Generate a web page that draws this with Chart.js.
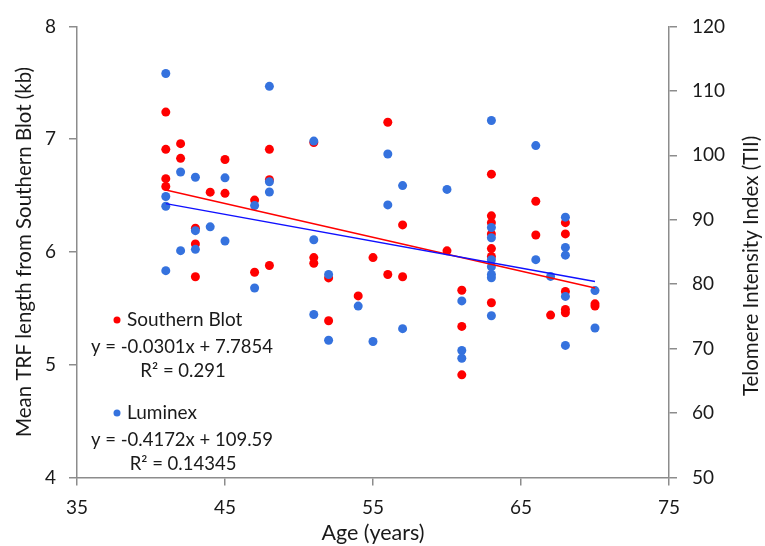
<!DOCTYPE html>
<html>
<head>
<meta charset="utf-8">
<script src="https://cdn.jsdelivr.net/npm/chart.js@4.4.1/dist/chart.umd.min.js"></script>
<style>
  html, body { margin: 0; padding: 0; background: #fff; }
  #wrap { width: 765px; height: 546px; position: relative; }
</style>
</head>
<body>
<div id="wrap"><canvas id="mycanvas"></canvas></div>
<script>
// Southern Blot (left axis, kb)
var sbAge = [41,41,41,41,42,42,43,43,43,44,45,45,47,47,48,48,48,51,51,51,52,52,54,55,56,56,57,57,60,61,61,61,63,63,63,63,63,63,63,66,66,67,68,68,68,68,68,70,70];
var sbTRF = [7.24,6.91,6.65,6.58,6.96,6.83,6.21,6.07,5.78,6.53,6.82,6.52,6.46,5.82,6.91,6.64,5.88,6.97,5.95,5.90,5.77,5.39,5.61,5.95,7.15,5.80,6.24,5.78,6.01,5.66,5.34,4.91,6.69,6.32,6.26,6.16,6.03,5.96,5.55,6.45,6.15,5.44,6.26,6.16,5.65,5.49,5.46,5.54,5.52];

// Luminex (right axis, TII)
var luAge = [41,41,41,41,42,42,43,43,43,44,45,45,47,47,48,48,48,51,51,51,52,52,54,55,56,56,57,57,60,61,61,61,63,63,63,63,63,63,63,63,66,66,67,68,68,68,68,68,70,70];
var luTII = [112.7,93.6,92.1,82.1,97.4,85.2,96.6,88.3,85.4,88.9,96.5,86.7,92.2,79.4,110.7,95.9,94.3,102.2,86.9,75.3,81.5,71.3,76.6,71.1,100.2,92.3,95.3,73.1,94.7,77.4,69.7,68.5,105.4,88.8,87.2,83.8,82.7,81.5,81.0,75.1,101.5,83.8,81.2,90.4,85.7,84.5,78.1,70.5,79.0,73.2];

// trend line end points
var fitAge = [41, 70];
var sbFit = [6.55, 5.68];
var luFit = [92.5, 80.4];

var xTicks = [35, 45, 55, 65, 75];
var leftTicks = [4, 5, 6, 7, 8];
var rightTicks = [50, 60, 70, 80, 90, 100, 110, 120];

var sbLegend = ["Southern Blot", "y = -0.0301x + 7.7854", "R\u00B2 = 0.291"];
var luLegend = ["Luminex", "y = -0.4172x + 109.59", "R\u00B2 = 0.14345"];

function pairs(xs, ys) {
	var out = [];
	for (var i = 0; i < xs.length; i++) {
		out.push({x: xs[i], y: ys[i]});
	}
	return out;
}

var FONT = "Lato";
var TXT = "#1a1a1a";
var AXIS = "#8c8c8c";
var RED = "#ff0000";
var BLUE = "#3572de";

// legend text + right title, drawn on the canvas
var notes = {
	id: "notes",
	afterDraw: function(chart) {
		var c = chart.ctx;
		var a = chart.chartArea;
		c.save();
		c.textBaseline = "middle";
		c.fillStyle = TXT;

		function block(lines, color, top) {
			var lx = a.left + 40;
			c.fillStyle = color;
			c.beginPath();
			c.arc(lx, top, 3.5, 0, Math.PI * 2);
			c.fill();
			c.fillStyle = TXT;
			c.textAlign = "left";
			c.font = "19px " + FONT;
			c.fillText(lines[0], lx + 10, top);
			c.textAlign = "center";
			c.font = "18.5px " + FONT;
			c.fillText(lines[1], a.left + 105, top + 27);
			c.fillText(lines[2], a.left + 106, top + 51);
		}
		block(sbLegend, RED, 320);
		block(luLegend, BLUE, 413);

		// right axis title, reading bottom to top
		c.translate(751, (a.top + a.bottom) / 2 + 14);
		c.rotate(-Math.PI / 2);
		c.textAlign = "center";
		c.font = "20.5px " + FONT;
		c.fillText("Telomere Intensity Index (TII)", 0, 0);
		c.restore();
	}
};

var ctx = document.getElementById("mycanvas");

var chart = new Chart(ctx, {
	type: "scatter",
	data: {
		datasets: [
			{
				label: "Southern Blot",
				data: pairs(sbAge, sbTRF),
				yAxisID: "y",
				backgroundColor: RED,
				borderColor: RED,
				pointRadius: 4.5,
				borderWidth: 0,
				order: 3
			},
			{
				label: "Luminex",
				data: pairs(luAge, luTII),
				yAxisID: "y1",
				backgroundColor: BLUE,
				borderColor: BLUE,
				pointRadius: 4.5,
				borderWidth: 0,
				order: 2
			},
			{
				label: "SB fit",
				type: "line",
				data: pairs(fitAge, sbFit),
				yAxisID: "y",
				borderColor: RED,
				borderWidth: 1.5,
				pointRadius: 0,
				fill: false,
				order: 1
			},
			{
				label: "Luminex fit",
				type: "line",
				data: pairs(fitAge, luFit),
				yAxisID: "y1",
				borderColor: "#1010ff",
				borderWidth: 1.5,
				pointRadius: 0,
				fill: false,
				order: 0
			}
		]
	},
	options: {
		responsive: true,
		maintainAspectRatio: false,
		animation: false,
		layout: { padding: { top: 19, left: 0, right: 0, bottom: 0 } },
		plugins: { legend: { display: false }, tooltip: { enabled: false } },
		scales: {
			x: {
				type: "linear",
				min: 35, max: 75,
				afterBuildTicks: function(s) { s.ticks = xTicks.map(function(v) { return {value: v}; }); },
				afterFit: function(s) { s.height = 68.5; },
				ticks: { color: TXT, font: { family: FONT, size: 19 }, padding: 11 },
				grid: { drawOnChartArea: false, drawTicks: true, tickLength: 8, color: AXIS, lineWidth: 1.5 },
				border: { color: AXIS, width: 1.5 },
				title: { display: true, text: "Age (years)", color: TXT, font: { family: FONT, size: 21.5 }, padding: { top: 0, bottom: 0 } }
			},
			y: {
				type: "linear",
				position: "left",
				min: 4, max: 8,
				afterBuildTicks: function(s) { s.ticks = leftTicks.map(function(v) { return {value: v}; }); },
				afterFit: function(s) { s.width = 77; },
				ticks: { color: TXT, font: { family: FONT, size: 19 }, padding: 13 },
				grid: { drawOnChartArea: false, drawTicks: true, tickLength: 8, color: AXIS, lineWidth: 1.5 },
				border: { color: AXIS, width: 1.5 },
				title: { display: true, text: "Mean TRF length from Southern Blot (kb)", color: TXT, font: { family: FONT, size: 20.5 }, padding: { top: 12, bottom: 0 } }
			},
			y1: {
				type: "linear",
				position: "right",
				min: 50, max: 120,
				afterBuildTicks: function(s) { s.ticks = rightTicks.map(function(v) { return {value: v}; }); },
				afterFit: function(s) { s.width = 96; },
				ticks: { color: TXT, font: { family: FONT, size: 19 }, padding: 15 },
				grid: { drawOnChartArea: false, drawTicks: true, tickLength: 8, color: AXIS, lineWidth: 1.5 },
				border: { color: AXIS, width: 1.5 }
			}
		}
	},
	plugins: [notes]
});
</script>
</body>
</html>
